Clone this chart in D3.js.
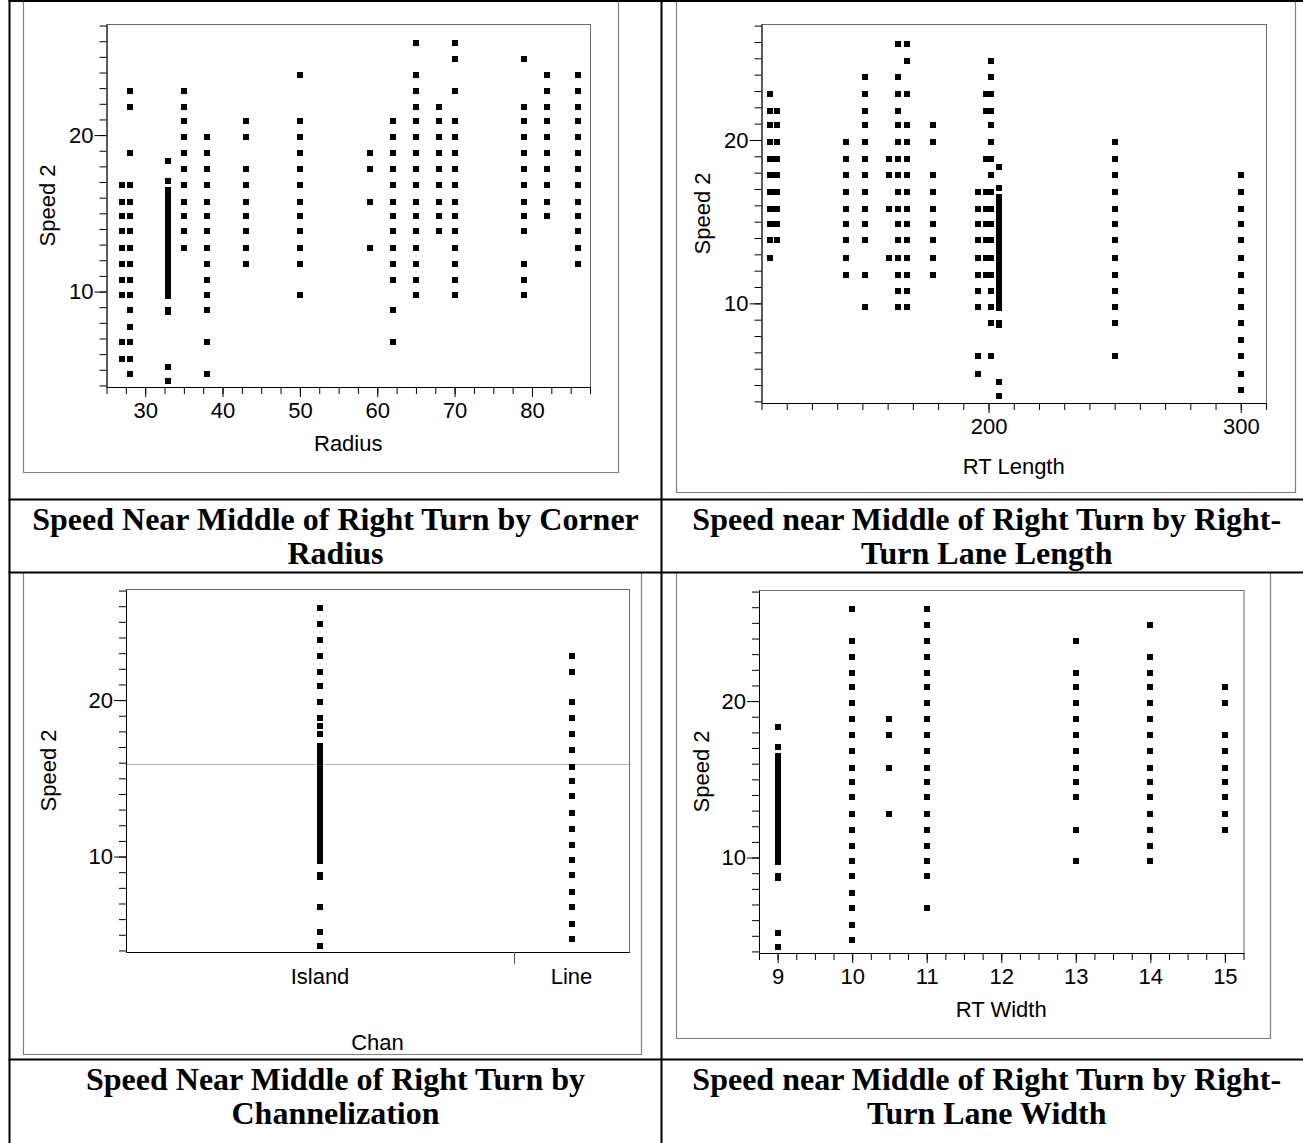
<!DOCTYPE html>
<html>
<head>
<meta charset="utf-8">
<script src="https://cdn.jsdelivr.net/npm/d3@7"></script>
<style>
  html, body { margin: 0; padding: 0; background: #fff; }
  svg { display: block; }
</style>
</head>
<body>
<div id="chart"></div>
<script>
// ---------- data ----------

// Speed 2 axis
const speedTicks = [10, 20];

// the big site (radius 33 / length 204 / width 9) -> solid band of points
const site33Speeds = [18.35, 17.05, 16.5, 16.4, 16.3, 16.2, 16.1, 16.0, 15.9, 15.8, 15.7, 15.6,
  15.5, 15.4, 15.3, 15.2, 15.1, 15.0, 14.9, 14.8, 14.7, 14.6, 14.5, 14.4, 14.3, 14.2, 14.1,
  14.0, 13.9, 13.8, 13.7, 13.6, 13.5, 13.4, 13.3, 13.2, 13.1, 13.0, 12.9, 12.8, 12.7, 12.6,
  12.5, 12.4, 12.3, 12.2, 12.1, 12.0, 11.9, 11.8, 11.7, 11.6, 11.5, 11.4, 11.3, 11.2, 11.1,
  11.0, 10.75, 10.6, 10.5, 10.4, 10.3, 10.2, 10.1, 10.0, 9.9, 9.8, 9.7, 8.8, 8.7, 5.2, 4.3];

// Panel 1: corner radius
const radiusValues = [27, 28, 33, 35, 38, 43, 50, 59, 62, 65, 68, 70, 79, 82, 86];
const radiusSpeeds = [
  [16.8, 15.75, 14.85, 13.85, 12.8, 11.75, 10.75, 9.75, 6.75, 5.7],
  [22.8, 21.8, 18.85, 16.8, 15.75, 14.85, 13.85, 12.8, 11.75, 10.75, 9.75, 8.8, 7.75, 6.75, 5.7, 4.7],
  site33Speeds,
  [22.8, 21.8, 20.9, 19.9, 18.85, 17.85, 16.8, 15.75, 14.85, 13.85, 12.8],
  [19.9, 18.85, 17.85, 16.8, 15.75, 14.85, 13.85, 12.8, 11.75, 10.75, 9.75, 8.8, 6.75, 4.7],
  [20.9, 19.9, 17.85, 16.8, 15.75, 14.85, 13.85, 12.8, 11.75],
  [23.85, 20.9, 19.9, 18.85, 17.85, 16.8, 15.75, 14.85, 13.85, 12.8, 11.75, 9.75],
  [18.85, 17.85, 15.75, 12.8],
  [20.9, 19.9, 18.85, 17.85, 16.8, 15.75, 14.85, 13.85, 12.8, 11.75, 10.75, 8.8, 6.75],
  [25.9, 23.85, 22.8, 21.8, 20.9, 19.9, 18.85, 17.85, 16.8, 15.75, 14.85, 13.85, 12.8, 11.75, 10.75, 9.75],
  [21.8, 20.9, 19.9, 18.85, 17.85, 16.8, 15.75, 14.85, 13.85],
  [25.9, 24.85, 22.8, 20.9, 19.9, 18.85, 17.85, 16.8, 15.75, 14.85, 13.85, 12.8, 11.75, 10.75, 9.75],
  [24.85, 21.8, 20.9, 19.9, 18.85, 17.85, 16.8, 15.75, 14.85, 13.85, 11.75, 10.75, 9.75],
  [23.85, 22.8, 21.8, 20.9, 19.9, 18.85, 17.85, 16.8, 15.75, 14.85],
  [23.85, 22.8, 21.8, 20.9, 19.9, 18.85, 17.85, 16.8, 15.75, 14.85, 13.85, 12.8, 11.75]
];
const radiusTicks = [30, 40, 50, 60, 70, 80];

// Panel 2: right-turn lane length
const lengthValues = [113.5, 115, 116, 143.5, 151, 160.5, 164, 167.5, 178, 196, 199, 201, 204, 250, 300];
const lengthSpeeds = [
  [22.8, 21.8, 20.9, 19.9, 18.85, 17.85, 16.8, 15.75, 14.85, 13.85, 12.8],
  [18.85, 17.85, 16.8, 15.75, 14.85],
  [21.8, 20.9, 19.9, 18.85, 17.85, 16.8, 15.75, 14.85, 13.85],
  [19.9, 18.85, 17.85, 16.8, 15.75, 14.85, 13.85, 12.8, 11.75],
  [23.85, 22.8, 21.8, 20.9, 19.9, 18.85, 17.85, 16.8, 15.75, 14.85, 13.85, 11.75, 9.75],
  [18.85, 17.85, 15.75, 12.8],
  [25.9, 23.85, 22.8, 21.8, 20.9, 19.9, 18.85, 17.85, 16.8, 15.75, 14.85, 13.85, 12.8, 11.75, 10.75, 9.75],
  [25.9, 24.85, 22.8, 20.9, 19.9, 18.85, 17.85, 16.8, 15.75, 14.85, 13.85, 12.8, 11.75, 10.75, 9.75],
  [20.9, 19.9, 17.85, 16.8, 15.75, 14.85, 13.85, 12.8, 11.75],
  [16.8, 15.75, 14.85, 13.85, 12.8, 11.75, 10.75, 9.75, 6.75, 5.7],
  [22.8, 21.8, 18.85, 16.8, 15.75, 14.85, 13.85, 12.8, 11.75],
  [24.85, 23.85, 22.8, 21.8, 20.9, 19.9, 18.85, 17.85, 16.8, 15.75, 14.85, 13.85, 12.8, 11.75, 10.75, 9.75, 8.8, 6.75],
  site33Speeds,
  [19.9, 18.85, 17.85, 16.8, 15.75, 14.85, 13.85, 12.8, 11.75, 10.75, 9.75, 8.8, 6.75],
  [17.85, 16.8, 15.75, 14.85, 13.85, 12.8, 11.75, 10.75, 9.75, 8.8, 7.75, 6.75, 5.7, 4.7]
];
const lengthTicks = [200, 300];

// Panel 3: channelization (category widths follow group size, like JMP)
const chanCategories = ["Island", "Line"];
const chanCounts = [270, 80];
const islandSpeeds = [25.9, 24.85, 23.85, 22.8, 21.8, 20.9, 19.9, 18.85, 17.85, 16.8, 15.75,
  14.85, 13.85, 12.8, 11.75, 10.75, 9.75, 8.8, 6.75, ...site33Speeds];
const lineSpeeds = [22.8, 21.8, 19.9, 18.85, 17.85, 16.8, 15.75, 14.85, 13.85, 12.8, 11.75,
  10.75, 9.75, 8.8, 7.75, 6.75, 5.7, 4.7];
const chanMeanSpeed = 15.9;

// Panel 4: right-turn lane width
const widthValues = [9, 10, 10.5, 11, 13, 14, 15];
const widthSpeeds = [
  site33Speeds,
  [25.9, 23.85, 22.8, 21.8, 20.9, 19.9, 18.85, 17.85, 16.8, 15.75, 14.85, 13.85, 12.8, 11.75, 10.75, 9.75, 8.8, 7.75, 6.75, 5.7, 4.7],
  [18.85, 17.85, 15.75, 12.8],
  [25.9, 24.85, 23.85, 22.8, 21.8, 20.9, 19.9, 18.85, 17.85, 16.8, 15.75, 14.85, 13.85, 12.8, 11.75, 10.75, 9.75, 8.8, 6.75],
  [23.85, 21.8, 20.9, 19.9, 18.85, 17.85, 16.8, 15.75, 14.85, 13.85, 11.75, 9.75],
  [24.85, 22.8, 21.8, 20.9, 19.9, 18.85, 17.85, 16.8, 15.75, 14.85, 13.85, 12.8, 11.75, 10.75, 9.75],
  [20.9, 19.9, 17.85, 16.8, 15.75, 14.85, 13.85, 12.8, 11.75]
];
const widthTicks = [9, 10, 11, 12, 13, 14, 15];

// captions under each plot
const captions = [
  ["Speed Near Middle of Right Turn by Corner", "Radius"],
  ["Speed near Middle of Right Turn by Right-", "Turn Lane Length"],
  ["Speed Near Middle of Right Turn by", "Channelization"],
  ["Speed near Middle of Right Turn by Right-", "Turn Lane Width"]
];

// ---------- drawing ----------
const W = 1303, H = 1143;
const SANS = '"Liberation Sans", Arial, sans-serif';
const SERIF = '"Liberation Serif", "Times New Roman", serif';
const FS = 22;
const yDomain = [3.9, 27.1];
const minorSpeed = d3.range(4, 28);
const MARK = 6;

const svg = d3.select("#chart").append("svg")
  .attr("width", W)
  .attr("height", H);

svg.append("rect").attr("width", W).attr("height", H).attr("fill", "#fff");

// outer frame around one JMP report (top edge sits under the table line)
function drawFrame(f) {
  svg.append("path")
    .attr("d", `M${f.left},${f.top}V${f.bottom}H${f.right}V${f.top}`)
    .attr("fill", "none")
    .attr("stroke", "#808080")
    .attr("stroke-width", 1.2);
}

function drawPlotBox(p) {
  svg.append("rect")
    .attr("x", p.left + 0.5)
    .attr("y", p.top + 0.5)
    .attr("width", p.right - p.left)
    .attr("height", p.bottom - p.top)
    .attr("fill", "none")
    .attr("stroke", "#6a6a6a")
    .attr("stroke-width", 1);
}

function styleAxis(g) {
  g.attr("font-family", SANS).attr("font-size", FS);
  g.selectAll("text").attr("fill", "#000");
  g.selectAll("line, path").attr("stroke", "#000");
}

function drawYAxis(p, y, titleDx) {
  svg.append("g")
    .attr("transform", `translate(${p.left},0)`)
    .call(d3.axisLeft(y).tickValues(minorSpeed).tickSize(7).tickSizeOuter(0).tickFormat(""))
    .call(styleAxis);

  svg.append("g")
    .attr("transform", `translate(${p.left},0)`)
    .call(d3.axisLeft(y).tickValues(speedTicks).tickSize(12).tickSizeOuter(0).tickPadding(1))
    .call(styleAxis)
    .call(g => g.select(".domain").remove());

  svg.append("text")
    .attr("transform", `translate(${p.left - titleDx},${(p.top + p.bottom) / 2}) rotate(-90)`)
    .attr("text-anchor", "middle")
    .attr("dy", "0.35em")
    .attr("font-family", SANS)
    .attr("font-size", FS)
    .text("Speed 2");
}

function drawXAxis(p, x, minor, major, title, titleDy) {
  svg.append("g")
    .attr("transform", `translate(0,${p.bottom})`)
    .call(d3.axisBottom(x).tickValues(minor).tickSize(7).tickSizeOuter(0).tickFormat(""))
    .call(styleAxis);

  svg.append("g")
    .attr("transform", `translate(0,${p.bottom})`)
    .call(d3.axisBottom(x).tickValues(major).tickSize(10).tickSizeOuter(0).tickPadding(5).tickFormat(d3.format("d")))
    .call(styleAxis)
    .call(g => g.select(".domain").remove());

  svg.append("text")
    .attr("x", (p.left + p.right) / 2)
    .attr("y", p.bottom + titleDy)
    .attr("text-anchor", "middle")
    .attr("font-family", SANS)
    .attr("font-size", FS)
    .text(title);
}

function drawPoints(points, x, y) {
  svg.append("g")
    .selectAll("rect")
    .data(points)
    .join("rect")
    .attr("x", d => Math.round(x(d.x) - MARK / 2))
    .attr("y", d => Math.round(y(d.y) - MARK / 2))
    .attr("width", MARK)
    .attr("height", MARK)
    .attr("fill", "#000");
}

function toPoints(xs, speeds) {
  return xs.flatMap((v, i) => speeds[i].map(s => ({ x: v, y: s })));
}

// --- Panel 1: Radius
{
  const p = { left: 106.5, right: 590, top: 24, bottom: 387 };
  drawFrame({ left: 23.5, right: 618.5, top: 1, bottom: 472.5 });
  const x = d3.scaleLinear().domain([25, 87.5]).range([p.left, p.right]);
  const y = d3.scaleLinear().domain(yDomain).range([p.bottom, p.top]);
  drawPlotBox(p);
  drawPoints(toPoints(radiusValues, radiusSpeeds), x, y);
  drawYAxis(p, y, 59);
  drawXAxis(p, x, d3.range(25, 88, 2.5), radiusTicks, "Radius", 64);
}

// --- Panel 2: RT Length
{
  const p = { left: 761.5, right: 1266, top: 24, bottom: 403 };
  drawFrame({ left: 676.5, right: 1295.5, top: 1, bottom: 492.5 });
  const x = d3.scaleLinear().domain([110, 310]).range([p.left, p.right]);
  const y = d3.scaleLinear().domain(yDomain).range([p.bottom, p.top]);
  drawPlotBox(p);
  drawPoints(toPoints(lengthValues, lengthSpeeds), x, y);
  drawYAxis(p, y, 59);
  drawXAxis(p, x, d3.range(110, 311, 10), lengthTicks, "RT Length", 71);
}

// --- Panel 3: Chan
{
  const p = { left: 126, right: 629, top: 589, bottom: 952 };
  drawFrame({ left: 23.5, right: 641.5, top: 573, bottom: 1054.5 });
  const total = d3.sum(chanCounts);
  const x = d3.scaleLinear().domain([0, total]).range([p.left, p.right]);
  const y = d3.scaleLinear().domain(yDomain).range([p.bottom, p.top]);
  const starts = [0, chanCounts[0]];
  const centers = chanCounts.map((n, i) => starts[i] + n / 2);

  drawPlotBox(p);

  // grand mean line
  svg.append("line")
    .attr("x1", p.left).attr("x2", p.right)
    .attr("y1", Math.round(y(chanMeanSpeed)) + 0.5).attr("y2", Math.round(y(chanMeanSpeed)) + 0.5)
    .attr("stroke", "#b4b4b4")
    .attr("stroke-width", 1);

  const pts = [islandSpeeds, lineSpeeds].flatMap((arr, i) => arr.map(s => ({ x: centers[i], y: s })));
  drawPoints(pts, x, y);
  drawYAxis(p, y, 78);

  // category axis: baseline + divider tick between groups
  svg.append("g")
    .attr("transform", `translate(0,${p.bottom})`)
    .call(d3.axisBottom(x).tickValues([chanCounts[0]]).tickSize(12).tickSizeOuter(0).tickFormat(""))
    .call(styleAxis)
    .call(g => g.selectAll(".tick line").attr("stroke", "#555"));

  svg.append("g")
    .selectAll("text")
    .data(chanCategories)
    .join("text")
    .attr("x", (d, i) => x(centers[i]))
    .attr("y", p.bottom + 32)
    .attr("text-anchor", "middle")
    .attr("font-family", SANS)
    .attr("font-size", FS)
    .text(d => d);

  svg.append("text")
    .attr("x", (p.left + p.right) / 2)
    .attr("y", p.bottom + 98)
    .attr("text-anchor", "middle")
    .attr("font-family", SANS)
    .attr("font-size", FS)
    .text("Chan");
}

// --- Panel 4: RT Width
{
  const p = { left: 759, right: 1243.5, top: 590, bottom: 953 };
  drawFrame({ left: 676.5, right: 1270.5, top: 573, bottom: 1038.5 });
  const x = d3.scaleLinear().domain([8.75, 15.25]).range([p.left, p.right]);
  const y = d3.scaleLinear().domain(yDomain).range([p.bottom, p.top]);
  drawPlotBox(p);
  drawPoints(toPoints(widthValues, widthSpeeds), x, y);
  drawYAxis(p, y, 58);
  drawXAxis(p, x, d3.range(8.75, 15.3, 0.25), widthTicks, "RT Width", 64);
}

// ---------- table grid + captions ----------
const grid = svg.append("g").attr("stroke", "#000").attr("stroke-width", 2);
const colX = [9.5, 661.5, 1312];
const rowY = [1, 499.5, 572.5, 1059.5];

grid.append("line").attr("x1", colX[0]).attr("x2", colX[0]).attr("y1", 0).attr("y2", H);
grid.append("line").attr("x1", colX[1]).attr("x2", colX[1]).attr("y1", 0).attr("y2", H);
rowY.forEach(yy => {
  grid.append("line").attr("x1", colX[0] - 1).attr("x2", W).attr("y1", yy).attr("y2", yy);
});

const capCells = [
  { cx: (colX[0] + colX[1]) / 2, top: rowY[1] },
  { cx: (colX[1] + colX[2]) / 2, top: rowY[1] },
  { cx: (colX[0] + colX[1]) / 2, top: rowY[3] },
  { cx: (colX[1] + colX[2]) / 2, top: rowY[3] }
];

captions.forEach((lines, i) => {
  const c = capCells[i];
  const t = svg.append("text")
    .attr("text-anchor", "middle")
    .attr("font-family", SERIF)
    .attr("font-weight", "bold")
    .attr("font-size", 32)
    .attr("fill", "#000");
  lines.forEach((ln, j) => {
    t.append("tspan")
      .attr("x", c.cx)
      .attr("y", c.top + 30 + j * 34.5)
      .text(ln);
  });
});
</script>
</body>
</html>
